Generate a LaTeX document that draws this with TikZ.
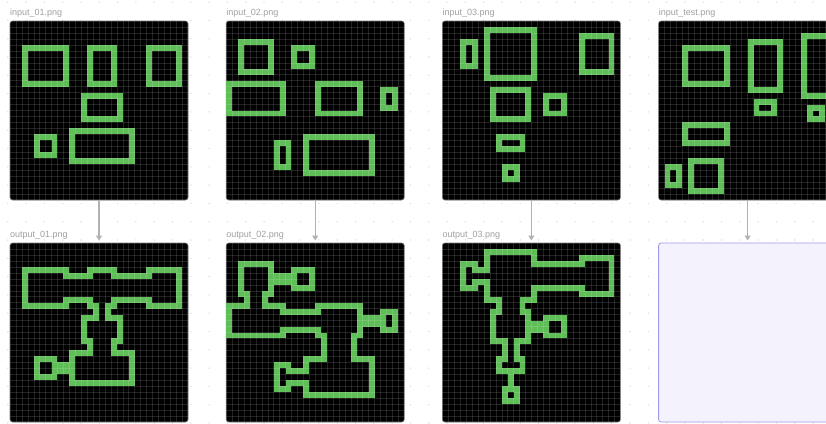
\documentclass[tikz,border=0pt]{standalone}
\usepackage{fontspec}
\setmainfont{Liberation Sans}
\usetikzlibrary{arrows.meta}
\definecolor{cellgreen}{RGB}{96,190,88}
\definecolor{labelgray}{RGB}{160,160,160}
\definecolor{arrowgray}{RGB}{178,178,178}
\definecolor{dotgray}{RGB}{222,222,222}
\definecolor{boxfill}{RGB}{243,242,253}
\definecolor{boxdraw}{RGB}{160,155,232}
\definecolor{panelborder}{RGB}{120,120,120}
\tikzset{
 panel/.style={draw=panelborder, line width=0.6pt, fill=black, rounded corners=2.5pt,
   minimum width=178pt, minimum height=179pt, inner sep=0pt, outer sep=0pt, anchor=north west},
 testbox/.style={panel, draw=boxdraw, fill=boxfill, line width=0.8pt},
 lbl/.style={text=labelgray, font=\fontsize{9}{10}\selectfont, anchor=base west, inner sep=0pt},
 flow/.style={draw=arrowgray, line width=1.1pt, -{Triangle[length=5pt,width=6pt]}, shorten >=2.5pt},
 gridline/.style={draw=white, draw opacity=0.13, line width=0.45pt},
 cellunits/.style={x=5.9333pt, y=-5.9667pt},
}
\newif\ifonedge
\newcommand\markrect[5]{%
  \foreach \ci in {#2,...,#3}{\foreach \cj in {#4,...,#5}{%
    \expandafter\gdef\csname U#1@\ci @\cj\endcsname{}}}}
\newcommand\drawcells[1]{%
  \foreach \ci in {0,...,29}{\foreach \cj in {0,...,29}{%
    \ifcsname U#1@\ci @\cj\endcsname
      \global\onedgefalse
      \foreach \di in {0,1,2}{\foreach \dj in {0,1,2}{%
        \ifcsname U#1@\the\numexpr\ci+\di-1\relax @\the\numexpr\cj+\dj-1\relax\endcsname\else\global\onedgetrue\fi}}%
      \ifonedge \fill[cellgreen] (\ci,\cj) rectangle ++(1,1);\fi
    \fi}}%
  \foreach \k in {1,...,29}{\draw[gridline] (\k,0) -- (\k,30); \draw[gridline] (0,\k) -- (30,\k);}}
% output_01
\markrect{1}{2}{9}{4}{10}\markrect{1}{13}{17}{4}{10}\markrect{1}{23}{28}{4}{10}
\markrect{1}{12}{18}{12}{16}\markrect{1}{4}{7}{19}{22}\markrect{1}{10}{20}{18}{23}
\markrect{1}{10}{12}{5}{9}\markrect{1}{18}{22}{5}{9}\markrect{1}{14}{16}{11}{11}
\markrect{1}{13}{17}{17}{17}\markrect{1}{8}{9}{20}{21}
% output_02
\markrect{2}{2}{7}{3}{8}\markrect{2}{11}{14}{4}{7}\markrect{2}{0}{9}{10}{15}
\markrect{2}{15}{22}{10}{15}\markrect{2}{26}{28}{11}{14}\markrect{2}{8}{10}{20}{24}
\markrect{2}{13}{24}{19}{25}
\markrect{2}{8}{10}{5}{6}\markrect{2}{3}{6}{9}{9}\markrect{2}{10}{14}{11}{14}
\markrect{2}{23}{25}{12}{13}\markrect{2}{16}{21}{16}{18}\markrect{2}{11}{12}{21}{23}
% output_03
\markrect{3}{3}{5}{3}{7}\markrect{3}{7}{15}{1}{9}\markrect{3}{23}{28}{2}{8}
\markrect{3}{8}{14}{11}{16}\markrect{3}{17}{20}{12}{15}\markrect{3}{9}{13}{19}{21}
\markrect{3}{10}{12}{24}{26}
\markrect{3}{6}{6}{4}{6}\markrect{3}{16}{22}{3}{7}\markrect{3}{9}{13}{10}{10}
\markrect{3}{15}{16}{13}{14}\markrect{3}{10}{12}{17}{18}\markrect{3}{11}{11}{22}{23}
% input_01
\markrect{4}{2}{9}{4}{10}\markrect{4}{13}{17}{4}{10}\markrect{4}{23}{28}{4}{10}
\markrect{4}{12}{18}{12}{16}\markrect{4}{4}{7}{19}{22}\markrect{4}{10}{20}{18}{23}
% input_02
\markrect{5}{2}{7}{3}{8}\markrect{5}{11}{14}{4}{7}\markrect{5}{0}{9}{10}{15}
\markrect{5}{15}{22}{10}{15}\markrect{5}{26}{28}{11}{14}\markrect{5}{8}{10}{20}{24}
\markrect{5}{13}{24}{19}{25}
% input_03
\markrect{6}{3}{5}{3}{7}\markrect{6}{7}{15}{1}{9}\markrect{6}{23}{28}{2}{8}
\markrect{6}{8}{14}{11}{16}\markrect{6}{17}{20}{12}{15}\markrect{6}{9}{13}{19}{21}
\markrect{6}{10}{12}{24}{26}
% input_test
\markrect{7}{4}{11}{4}{10}\markrect{7}{15}{20}{3}{11}\markrect{7}{24}{29}{2}{12}
\markrect{7}{16}{19}{13}{15}\markrect{7}{25}{27}{14}{16}\markrect{7}{4}{11}{17}{20}
\markrect{7}{1}{3}{24}{27}\markrect{7}{5}{10}{23}{28}
\begin{document}
\begin{tikzpicture}[x=1pt,y=-1pt]
\useasboundingbox (0,0) rectangle (826,423);
\clip (0,0) rectangle (826,423);
\fill[white] (0,0) rectangle (826,423);
\foreach \dx in {0,...,45}{\foreach \dy in {0,...,23}{\fill[dotgray] ({7.8+18.3*\dx},{2.1+18.3*\dy}) circle (0.8pt);}}
% panels
\node[panel] (in1) at (10,21) {};
\node[panel] (in2) at (226.2,21) {};
\node[panel] (in3) at (442.4,21) {};
\node[panel] (in4) at (658.6,21) {};
\node[panel] (out1) at (10,243) {};
\node[panel] (out2) at (226.2,243) {};
\node[panel] (out3) at (442.4,243) {};
\node[testbox] (out4) at (658.6,243) {};
% cells
\begin{scope}[shift={(10,21)},cellunits]\drawcells{4}\end{scope}
\begin{scope}[shift={(226.2,21)},cellunits]\drawcells{5}\end{scope}
\begin{scope}[shift={(442.4,21)},cellunits]\drawcells{6}\end{scope}
\begin{scope}[shift={(658.6,21)},cellunits]\drawcells{7}\end{scope}
\begin{scope}[shift={(10,243)},cellunits]\drawcells{1}\end{scope}
\begin{scope}[shift={(226.2,243)},cellunits]\drawcells{2}\end{scope}
\begin{scope}[shift={(442.4,243)},cellunits]\drawcells{3}\end{scope}
% labels
\node[lbl] (lin1) at (10,15.5) {input\_01.png};
\node[lbl] (lin2) at (226.2,15.5) {input\_02.png};
\node[lbl] (lin3) at (442.4,15.5) {input\_03.png};
\node[lbl] (lin4) at (658.6,15.5) {input\_test.png};
\node[lbl] (lout1) at (10,237) {output\_01.png};
\node[lbl] (lout2) at (226.2,237) {output\_02.png};
\node[lbl] (lout3) at (442.4,237) {output\_03.png};
% arrows
\draw[flow] (in1.south) -- (out1.north);
\draw[flow] (in2.south) -- (out2.north);
\draw[flow] (in3.south) -- (out3.north);
\draw[flow] (in4.south) -- (out4.north);
\end{tikzpicture}
\end{document}
